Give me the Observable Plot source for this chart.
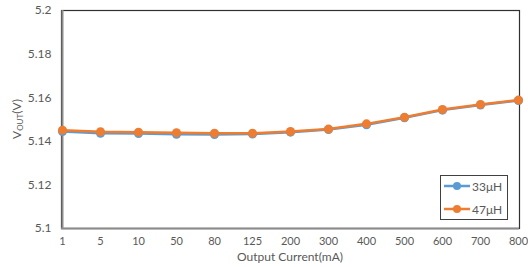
<!DOCTYPE html>
<html><head><meta charset="utf-8">
<script src="https://cdn.jsdelivr.net/npm/d3@7"></script>
<script src="https://cdn.jsdelivr.net/npm/@observablehq/plot@0.6"></script>
<style>
body{margin:0;background:#fff;}
#wrap{position:relative;width:528px;height:267px;font-family:Lato,"Open Sans",sans-serif;}
#legend{position:absolute;left:440px;top:175px;width:68px;height:45px;border:1px solid #404040;background:#fff;box-sizing:border-box;font-size:12px;color:#595959;}
.li{position:absolute;left:3px;height:14px;display:flex;align-items:center;}
.li svg{margin-right:2px;}
</style></head>
<body><div id="wrap"><div id="legend"></div></div>
<script>
const categories = ["1","5","10","50","80","125","200","300","400","500","600","700","800"];
const seriesNames = ["33μH","47μH"];
const values33 = [5.1445,5.1437,5.1436,5.1432,5.1431,5.1433,5.1442,5.1454,5.1476,5.1508,5.1543,5.1566,5.1587];
const values47 = [5.1451,5.1444,5.1442,5.1439,5.1437,5.1437,5.1445,5.1456,5.1480,5.1510,5.1546,5.1569,5.1589];
const yTicks = [5.1,5.12,5.14,5.16,5.18,5.2];
const colors = ["#5B9BD5","#ED7D31"];

const data = [];
categories.forEach((c,i)=>{
  data.push({x:c, y:values33[i], s:seriesNames[0]});
  data.push({x:c, y:values47[i], s:seriesNames[1]});
});

const chart = Plot.plot({
  width:528, height:267,
  marginLeft:61, marginRight:9, marginTop:10, marginBottom:39,
  style:{fontFamily:"Lato, 'Open Sans', sans-serif", fontSize:"12px", color:"#595959", background:"#fff"},
  x:{type:"point", domain:categories, padding:0, label:null},
  y:{domain:[5.1,5.2], label:null},
  color:{domain:seriesNames, range:colors},
  marks:[
    Plot.frame({stroke:"#303030", strokeWidth:1.2}),
    Plot.ruleX([categories[0]], {stroke:"#8c8c8c", strokeWidth:2}),
    Plot.ruleY([5.1], {stroke:"#8c8c8c", strokeWidth:2}),
    Plot.line(data, {x:"x", y:"y", z:"s", stroke:"s", strokeWidth:2.5}),
    Plot.dot(data, {x:"x", y:"y", fill:"s", r:4.5, stroke:"none"}),
    Plot.axisX({tickSize:0, tickPadding:9, fill:"#595959", fontSize:11}),
    Plot.axisY({ticks:yTicks, tickFormat:d=>String(+d.toFixed(2)), tickSize:0, tickPadding:10, fill:"#595959", fontSize:12})
  ]
});
document.getElementById("wrap").prepend(chart);

const svg = d3.select(chart);
svg.append("text").attr("x",290).attr("y",261).attr("text-anchor","middle")
  .attr("fill","#595959").attr("font-size",12).text("Output Current(mA)");
const yl = svg.append("text").attr("transform","translate(21,119) rotate(-90)")
  .attr("text-anchor","middle").attr("fill","#595959").attr("font-size",12);
yl.append("tspan").text("V");
yl.append("tspan").attr("font-size",8).attr("dy",2).text("OUT");
yl.append("tspan").attr("dy",-2).text("(V)");

const leg = document.getElementById("legend");
seriesNames.forEach((n,i)=>{
  const d = document.createElement("div");
  d.className="li"; d.style.top=(i===0?3:26)+"px";
  d.innerHTML=`<svg width="26" height="10"><line x1="0" x2="26" y1="5" y2="5" stroke="${colors[i]}" stroke-width="2.5"/><circle cx="13" cy="5" r="4" fill="${colors[i]}"/></svg><span>${n}</span>`;
  leg.appendChild(d);
});
</script></body></html>
